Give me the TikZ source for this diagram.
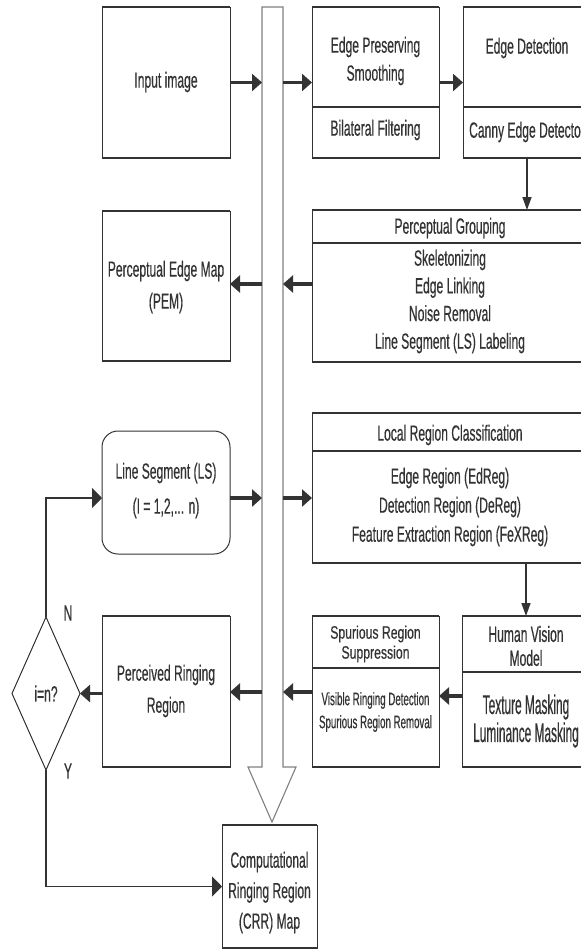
\documentclass[tikz,border=0pt]{standalone}
\usepackage{fontspec}
\setmainfont[FakeStretch=0.55,FakeBold=0.4]{Liberation Sans}
\newfontfamily\tallfont[FakeStretch=0.44,FakeBold=0.4]{Liberation Sans}
\newfontfamily\narrowfont[FakeStretch=0.54,FakeBold=0.4]{Liberation Sans}
\newfontfamily\midfont[FakeStretch=0.68,FakeBold=0.4]{Liberation Sans}
\usetikzlibrary{arrows.meta,shapes.geometric}
\definecolor{ink}{HTML}{333333}
\definecolor{shaftc}{HTML}{808080}
\tikzset{
  box/.style={draw=ink, line width=1pt, outer sep=0pt, inner sep=0pt},
  hl/.style={draw=ink, line width=2pt},
  txt/.style={text=ink, font=\fontsize{22}{28}\selectfont, align=center, inner sep=0pt},
  thk/.style={draw=ink, line width=3.5pt, -{Triangle[length=10pt,width=17pt]}},
  thnh/.style={draw=ink, line width=1.5pt, -{Triangle[length=10pt,width=20pt]}},
  thnv/.style={draw=ink, line width=1.5pt, -{Triangle[length=13pt,width=9pt]}},
  shaftline/.style={draw=shaftc, line width=1.1pt, fill=white}
}
\begin{document}
\begin{tikzpicture}[x=1pt,y=-1pt]
\useasboundingbox (0,0) rectangle (581,951);
\fill[white] (0,0) rectangle (581,951);

% hollow vertical arrow (shaft)
\draw[shaftline] (262,767) -- (262,7) -- (283,7) -- (283,767) -- (296,767) -- (272,822) -- (248,767) -- cycle;
\coordinate (shL) at (262,0);
\coordinate (shR) at (283,0);

% boxes
\node[box, minimum width=128pt, minimum height=151pt] (inp) at (166,82.5) {};
\node[box, minimum width=127pt, minimum height=151pt] (eps) at (375.5,82.5) {};
\node[box, minimum width=128pt, minimum height=151pt] (ed) at (527,82.5) {};
\node[box, minimum width=276pt, minimum height=152pt] (pg) at (450,286) {};
\node[box, minimum width=128pt, minimum height=150pt] (pem) at (166,286) {};
\node[box, rounded corners=16pt, minimum width=128pt, minimum height=123pt] (ls) at (166,492.5) {};
\node[box, minimum width=276pt, minimum height=150pt] (lrc) at (450,488) {};
\node[box, minimum width=128pt, minimum height=151pt] (hvm) at (526,691.5) {};
\node[box, minimum width=127pt, minimum height=151pt] (srs) at (375.5,691.5) {};
\node[box, minimum width=128pt, minimum height=151pt] (prr) at (166,691.5) {};
\node[box, minimum width=95pt, minimum height=123pt] (crr) at (269.5,886.5) {};
\node[draw=ink, line width=1pt, diamond, inner sep=0pt, outer sep=0pt, minimum width=68pt, minimum height=153pt] (dia) at (46,693.5) {};

% thicker horizontal edges
\foreach \n in {inp,eps,ed,pg,pem,lrc,hvm,srs,prr,crr}
  \draw[hl] (\n.north west) -- (\n.north east) (\n.south west) -- (\n.south east);

% dividers
\draw[hl] (eps.west |- 0,107) -- (eps.east |- 0,107);
\draw[hl] (ed.west |- 0,107) -- (ed.east |- 0,107);
\draw[hl] (pg.west |- 0,243) -- (pg.east |- 0,243);
\draw[hl] (lrc.west |- 0,451) -- (lrc.east |- 0,451);
\draw[hl] (hvm.west |- 0,672) -- (hvm.east |- 0,672);
\draw[hl] (srs.west |- 0,668) -- (srs.east |- 0,668);

% texts
\node[txt] (tinp) at (166,82) {Input image};
\node[txt] (teps) at (375.5,61) {Edge Preserving\\Smoothing};
\node[txt] (tbil) at (375.5,130) {Bilateral Filtering};
\node[txt] (ted) at (527,48) {Edge Detection};
\node[txt] (tcan) at (527,132) {Canny Edge Detector};
\node[txt] (tpg) at (450,228) {Perceptual Grouping};
\node[txt, font=\fontsize{22}{27.7}\selectfont] (tpgb) at (450,301.5) {Skeletonizing\\Edge Linking\\Noise Removal\\Line Segment (LS) Labeling};
\node[txt, font=\fontsize{22}{32}\selectfont] (tpem) at (166,287) {Perceptual Edge Map\\(PEM)};
\node[txt, font=\fontsize{22}{35}\selectfont] (tls) at (166,490.5) {Line Segment (LS)\\(I = 1,2,... n)};
\node[txt] (tlrc) at (450,435) {Local Region Classification};
\node[txt, font=\fontsize{22}{29}\selectfont] (tlrcb) at (450,507) {Edge Region (EdReg)\\Detection Region (DeReg)\\Feature Extraction Region (FeXReg)};
\node[txt, font=\fontsize{22}{24}\selectfont] (thvm) at (526,646) {Human Vision\\Model};
\node[txt, font=\tallfont\fontsize{27}{28}\selectfont] (thvmb) at (526,721) {Texture Masking\\Luminance Masking};
\node[txt, font=\midfont\fontsize{18}{20}\selectfont] (tsrs) at (375.5,644) {Spurious Region\\Suppression};
\node[txt, font=\narrowfont\fontsize{18}{23}\selectfont] (tsrsb) at (375.5,712) {Visible Ringing Detection\\Spurious Region Removal};
\node[txt, font=\fontsize{22}{32}\selectfont] (tprr) at (166,691) {Perceived Ringing\\Region};
\node[txt] (tdia) at (46,693.5) {i=n?};
\node[txt, font=\fontsize{22}{30.5}\selectfont] (tcrr) at (269.5,892.5) {Computational\\Ringing Region\\(CRR) Map};
\node[txt] (lN) at (68,613) {N};
\node[txt] (lY) at (68,771) {Y};

% connectors
\coordinate (lsy) at (0,498);
\coordinate (pgy) at (0,284);
\coordinate (srsy) at (0,692);
\coordinate (hvy) at (0,696);
\draw[thk] (inp.east) -- (inp.east -| shL);
\draw[thk] (eps.west -| shR) -- (eps.west);
\draw[thk] (eps.east) -- (ed.west);
\draw[thnv] (ed.south) -- (ed.south |- pg.north);
\draw[thk] (pg.west |- pgy) -- (shR |- pgy);
\draw[thk] (shL |- pgy) -- (pem.east |- pgy);
\draw[thk] (ls.east |- lsy) -- (shL |- lsy);
\draw[thk] (shR |- lsy) -- (lrc.west |- lsy);
\draw[thnv] (lrc.south -| hvm.north) -- (hvm.north);
\draw[thk] (hvm.west |- hvy) -- (srs.east |- hvy);
\draw[thk] (srs.west |- srsy) -- (shR |- srsy);
\draw[thk] (shL |- srsy) -- (prr.east |- srsy);
\draw[thk] (prr.west |- dia.east) -- (dia.east);
\draw[thnh] (dia.north) -- (dia.north |- lsy) -- (ls.west |- lsy);
\draw[thnh] (dia.south) |- (crr.west);
\end{tikzpicture}
\end{document}
